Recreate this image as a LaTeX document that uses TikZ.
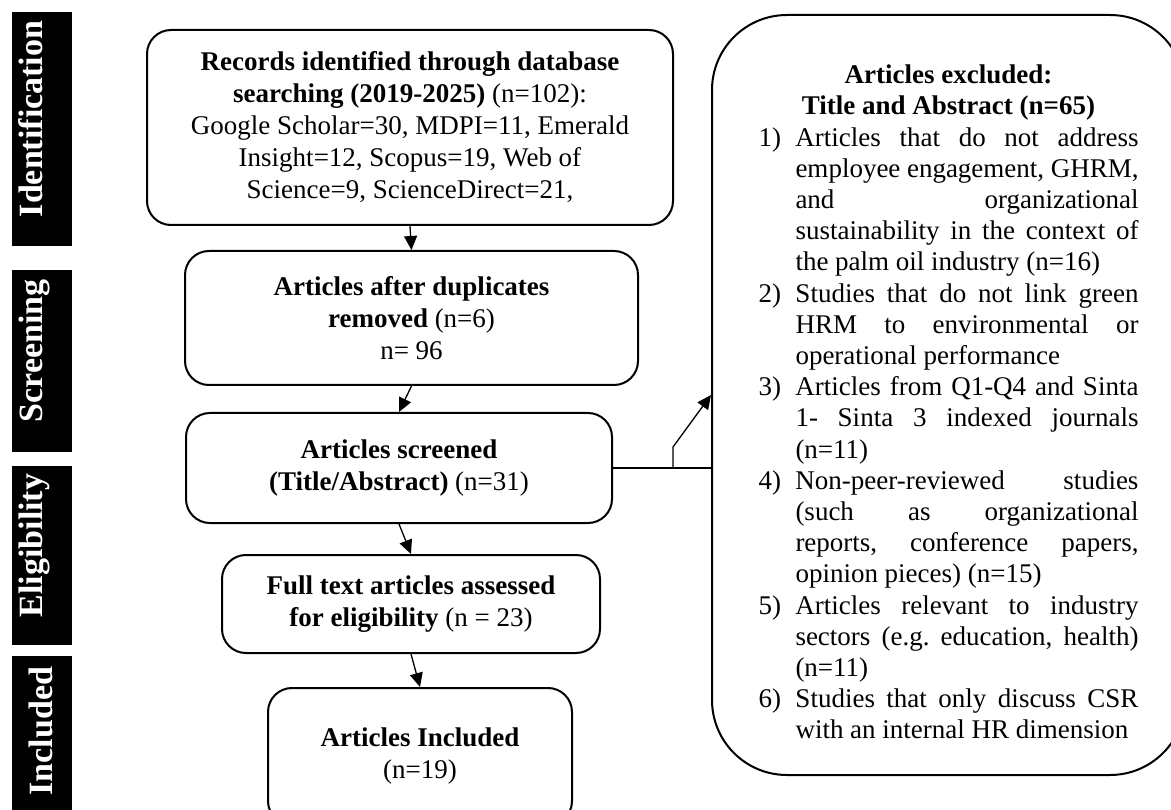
\documentclass[tikz,border=0pt]{standalone}
\usepackage{fontspec}
\setmainfont{Liberation Serif}
\usetikzlibrary{arrows.meta,positioning,calc}

\newcommand{\exitem}[2]{\par\noindent\hangindent=37pt\hangafter=1\makebox[37pt][l]{#1}\ignorespaces#2\par}

\tikzset{
  flowbox/.style={draw, line width=2pt, rounded corners=24pt, align=center, inner sep=0pt,
    font=\fontsize{27}{32}\selectfont},
  sidebar/.style={fill=black, inner sep=0pt, minimum width=60pt},
  sidelabel/.style={text=white, rotate=90, anchor=base, inner sep=0pt,
    font=\fontsize{34}{40}\selectfont\bfseries},
  arr/.style={line width=1.3pt, -{Triangle[length=14pt,width=13pt]}},
}

\begin{document}
\begin{tikzpicture}[x=1pt, y=-1pt]
\useasboundingbox (0,0) rectangle (1171,810);

% stage bars
\node[sidebar, minimum height=234pt] (idbar) at (42,129) {};
\node[sidelabel] (idtxt) at (idbar.center) [xshift=10pt] {Identification};
\node[sidebar, minimum height=182pt] (scbar) at (42,361) {};
\node[sidelabel] (sctxt) at (scbar.center) [xshift=10pt] {Screening};
\node[sidebar, minimum height=179pt] (elbar) at (42,555.5) {};
\node[sidelabel] (eltxt) at (elbar.center) [xshift=10pt] {Eligibility};
\node[sidebar, minimum height=184pt] (inbar) at (42,748) {};
\node[sidelabel] (intxt) at (52,731) {Included};

% flow boxes
\node[flowbox, minimum width=526pt, minimum height=195pt] (rec) at (410,127.5)
  {\textbf{Records identified through database}\\
   \textbf{searching (2019-2025)} (n=102):\\
   Google Scholar=30, MDPI=11, Emerald\\
   Insight=12, Scopus=19, Web of\\
   Science=9, ScienceDirect=21,};
\node[flowbox, minimum width=453pt, minimum height=134pt] (dup) at (411.5,318)
  {\textbf{Articles after duplicates}\\ \textbf{removed} (n=6)\\ n= 96};
\node[flowbox, minimum width=426pt, minimum height=110pt] (scr) at (399,468)
  {\textbf{Articles screened}\\ \textbf{(Title/Abstract)} (n=31)};
\node[flowbox, minimum width=378pt, minimum height=98pt] (full) at (411,604)
  {\textbf{Full text articles assessed}\\ \textbf{for eligibility} (n = 23)};
\node[flowbox, minimum width=304pt, minimum height=137pt] (inc) at (420,756.5)
  {\textbf{Articles Included}\\ (n=19)};

% exclusion box
\node[draw, line width=2pt, rounded corners=75pt, inner sep=0pt,
      minimum width=473pt, minimum height=760pt] (excl) at (948.5,395)
  {\begin{minipage}{380pt}
   \fontsize{27}{31.2}\selectfont\frenchspacing
   \hyphenpenalty=10000 \exhyphenpenalty=10000 \tolerance=10000
   \vspace*{14pt}
   {\centering\bfseries Articles excluded:\\ Title and Abstract (n=65)\par}
   \exitem{1)}{Articles that do not address\linebreak employee engagement, GHRM,\linebreak
     and organizational\linebreak sustainability in the context of\linebreak
     the palm oil industry (n=16)}
   \exitem{2)}{Studies that do not link green\linebreak HRM to environmental or\linebreak
     operational performance}
   \exitem{3)}{Articles from Q1-Q4 and Sinta\linebreak 1- Sinta 3 indexed journals\linebreak (n=11)}
   \exitem{4)}{Non-peer-reviewed studies\linebreak (such as organizational\linebreak
     reports, conference papers,\linebreak opinion pieces) (n=15)}
   \exitem{5)}{Articles relevant to industry\linebreak sectors (e.g. education, health)\linebreak (n=11)}
   \exitem{6)}{Studies that only discuss CSR\linebreak with an internal HR dimension}
   \end{minipage}};

% connectors
\draw[arr] (rec.south) -- (dup.north);
\draw[arr] (dup.south) -- (scr.north);
\draw[arr] (scr.south) -- (full.north);
\draw[arr] (full.south) -- (inc.north);

\coordinate (split) at ($(scr.east)+(60,0)$);
\coordinate (kink) at ($(split)+(0,-21)$);
\draw[line width=1.3pt] (scr.east) -- (scr.east -| excl.west);
\draw[arr] (split) -- (kink) -- (excl.west);
\end{tikzpicture}
\end{document}
